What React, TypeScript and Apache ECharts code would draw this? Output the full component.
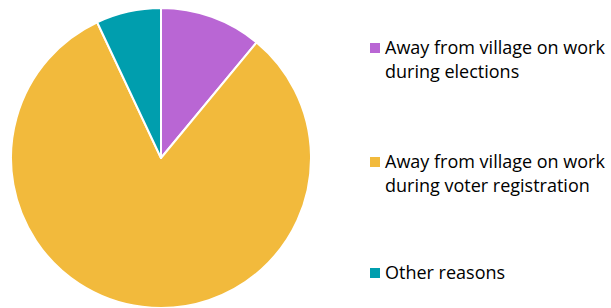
import React, { useEffect, useRef } from "react";
import * as echarts from "echarts";

const categories = [
  "Away from village on work\nduring elections",
  "Away from village on work\nduring voter registration",
  "Other reasons",
];
const values = [11, 82, 7];
const colors = ["#B966D4", "#F2BA3C", "#009EAE"];
const legendTops = [43, 157, 268];

export default function App() {
  const ref = useRef<HTMLDivElement>(null);
  useEffect(() => {
    document.body.style.margin = "0";
    const chart = echarts.init(ref.current!, null, { renderer: "svg" });
    const graphic: any[] = [];
    categories.forEach((c, i) => {
      graphic.push({
        type: "rect",
        shape: { x: 370, y: legendTops[i], width: 10, height: 10 },
        style: { fill: colors[i] },
      });
      graphic.push({
        type: "text",
        x: 385,
        y: legendTops[i] + 5 - 13,
        style: {
          text: c,
          fill: "#000",
          font: "18px 'Open Sans'",
          lineHeight: 24,
          textVerticalAlign: "top",
        },
      });
    });
    chart.setOption({
      animation: false,
      backgroundColor: "#fff",
      graphic,
      series: [
        {
          type: "pie",
          center: [161, 158],
          radius: [0, 150],
          startAngle: 90,
          clockwise: true,
          label: { show: false },
          labelLine: { show: false },
          itemStyle: { borderColor: "#fff", borderWidth: 2 },
          data: categories.map((c, i) => ({
            name: c,
            value: values[i],
            itemStyle: { color: colors[i] },
          })),
        },
      ],
    });
    return () => chart.dispose();
  }, []);
  return <div ref={ref} style={{ width: 611, height: 308 }} />;
}
